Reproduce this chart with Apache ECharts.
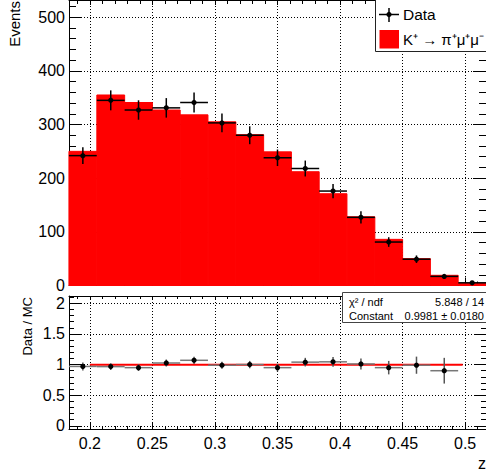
<!DOCTYPE html>
<html>
<head>
<meta charset="utf-8">
<script src="https://cdn.jsdelivr.net/npm/echarts@6/dist/echarts.min.js"></script>
<style>
  html, body { margin: 0; padding: 0; background: #fff; }
  #chart { width: 486px; height: 472px; }
</style>
</head>
<body>
<div id="chart"></div>
<script>
// bins in z (15 bins, width 1/45)
const binCenters = [0.1944, 0.2167, 0.2389, 0.2611, 0.2833, 0.3056, 0.3278, 0.3500, 0.3722, 0.3944, 0.4167, 0.4389, 0.4611, 0.4833, 0.5056]
const binWidth = 0.02222
const zRange = [0.18333, 0.51667]

// MC: K+ -> pi+ mu+ mu-
const mcEvents = [250, 355, 341, 327, 318, 305, 281, 249, 212, 171, 128, 86, 50, 19, 4]
// data points + errors
const dataEvents = [242, 345, 327, 331, 341, 303, 280, 238, 218, 176, 127, 81, 49, 17, 5]
const dataErrors = [15.6, 18.6, 18.1, 18.2, 18.5, 17.4, 16.7, 15.4, 14.8, 13.3, 11.3, 9.0, 7.0, 4.1, 2.2]

// data / MC (last bin not drawn)
const ratioValues = [0.97, 0.967, 0.95, 1.026, 1.07, 0.99, 1.0, 0.95, 1.04, 1.045, 1.01, 0.95, 0.99, 0.90]
const ratioErrors = [0.065, 0.055, 0.055, 0.057, 0.06, 0.058, 0.06, 0.064, 0.07, 0.08, 0.09, 0.11, 0.14, 0.21]

// pol0 fit of the ratio
const fitConstant = 0.9981
const fitRange = [0.2, 0.498]
const statsRows = [["χ² / ndf", "5.848 / 14"], ["Constant", "0.9981 ± 0.0180"]]

const FONT = '"Liberation Sans", Arial, Helvetica, sans-serif'
const gridLine = { show: true, lineStyle: { color: "#000", width: 1, type: [1, 2] } }

function frameAxis(gridIndex, position, tickLen, minorLen, extra) {
  return Object.assign({
    type: "value",
    gridIndex: gridIndex,
    position: position,
    axisLine: { show: true, onZero: false, lineStyle: { color: "#000", width: 1 } },
    axisTick: { show: true, inside: true, length: tickLen, lineStyle: { color: "#000" } },
    minorTick: { show: true, splitNumber: 5, length: minorLen, lineStyle: { color: "#000" } },
    axisLabel: { show: false },
    splitLine: { show: false },
  }, extra)
}

function renderBin(params, api) {
  const x = api.value(0)
  const p0 = api.coord([x - binWidth / 2, api.value(1)])
  const p1 = api.coord([x + binWidth / 2, 0])
  return {
    type: "rect",
    shape: { x: p0[0], y: p0[1], width: p1[0] - p0[0], height: p1[1] - p0[1] },
    // stroke in the same red hides the seams between neighbouring bins
    style: { fill: "#ff0000", stroke: "#ff0000", lineWidth: 1 },
  }
}

function errorBars(vColor, hColor) {
  return function (params, api) {
    const x = api.value(0), y = api.value(1), e = api.value(2)
    const l = api.coord([x - binWidth / 2, y])
    const r = api.coord([x + binWidth / 2, y])
    const t = api.coord([x, y + e])
    const b = api.coord([x, y - e])
    const c = api.coord([x, y])
    return {
      type: "group",
      children: [
        { type: "line", shape: { x1: l[0], y1: l[1], x2: r[0], y2: r[1] }, style: { stroke: hColor, lineWidth: 1.5 } },
        { type: "line", shape: { x1: t[0], y1: t[1], x2: b[0], y2: b[1] }, style: { stroke: vColor, lineWidth: 1.5 } },
        { type: "circle", shape: { cx: c[0], cy: c[1], r: 2.6 }, style: { fill: "#000" } },
      ],
    }
  }
}

const labelStyle = { show: true, color: "#000", fontFamily: FONT, fontSize: 16 }

const option = {
  animation: false,
  backgroundColor: "#fff",
  grid: [
    { left: 69, right: -3, top: 0, height: 285.5 },
    { left: 69, right: -3, top: 296, height: 133.5 },
  ],
  xAxis: [
    frameAxis(0, "bottom", 8, 4, { min: zRange[0], max: zRange[1], splitLine: gridLine }),
    frameAxis(0, "top", 5, 4, { min: zRange[0], max: zRange[1] }),
    frameAxis(1, "bottom", 7, 3.5, {
      min: zRange[0], max: zRange[1], splitLine: gridLine,
      axisLabel: Object.assign({ margin: 6, showMinLabel: false, showMaxLabel: false }, labelStyle),
    }),
    frameAxis(1, "top", 4, 3, { min: zRange[0], max: zRange[1] }),
  ],
  yAxis: [
    frameAxis(0, "left", 13, 7, {
      min: 0, max: 532, splitLine: gridLine,
      axisLabel: Object.assign({ margin: 4, showMinLabel: true, showMaxLabel: false }, labelStyle),
    }),
    frameAxis(0, "right", 13, 7, { min: 0, max: 532 }),
    frameAxis(1, "left", 12, 5, {
      min: -0.06, max: 2.12, splitLine: gridLine,
      axisLabel: Object.assign({ margin: 4, showMinLabel: false, showMaxLabel: false }, labelStyle),
    }),
    frameAxis(1, "right", 12, 5, { min: -0.06, max: 2.12 }),
  ],
  series: [
    {
      name: "K⁺ → π⁺μ⁺μ⁻",
      type: "custom",
      xAxisIndex: 0,
      yAxisIndex: 0,
      encode: { x: 0, y: 1 },
      data: binCenters.map((c, i) => [c, mcEvents[i]]),
      renderItem: renderBin,
      z: 2,
    },
    {
      name: "Data",
      type: "custom",
      xAxisIndex: 0,
      yAxisIndex: 0,
      encode: { x: 0, y: 1 },
      data: binCenters.map((c, i) => [c, dataEvents[i], dataErrors[i]]),
      renderItem: errorBars("#000", "#000"),
      z: 4,
    },
    {
      name: "fit",
      type: "line",
      xAxisIndex: 2,
      yAxisIndex: 2,
      data: fitRange.map((x) => [x, fitConstant]),
      symbol: "none",
      lineStyle: { color: "#ff0000", width: 2 },
      z: 3,
    },
    {
      name: "ratio",
      type: "custom",
      xAxisIndex: 2,
      yAxisIndex: 2,
      encode: { x: 0, y: 1 },
      data: ratioValues.map((r, i) => [binCenters[i], r, ratioErrors[i]]),
      renderItem: errorBars("#555", "#777"),
      z: 4,
    },
  ],
  graphic: [
    // axis titles
    { type: "text", x: 14.5, y: 1, rotation: Math.PI / 2,
      style: { text: "Events", fill: "#000", font: "15px " + FONT, align: "right", verticalAlign: "middle" } },
    { type: "text", x: 27, y: 297, rotation: Math.PI / 2,
      style: { text: "Data / MC", fill: "#000", font: "13px " + FONT, align: "right", verticalAlign: "middle" } },
    { type: "text", x: 486, y: 463,
      style: { text: "z", fill: "#000", font: "16px " + FONT, align: "right", verticalAlign: "middle" } },
    // legend
    { type: "rect", z: 20, shape: { x: 375.5, y: -1, width: 130, height: 52.5 },
      style: { fill: "#fff", stroke: "#222", lineWidth: 1 } },
    { type: "line", z: 21, shape: { x1: 379, y1: 14.5, x2: 399, y2: 14.5 }, style: { stroke: "#000", lineWidth: 1.5 } },
    { type: "line", z: 21, shape: { x1: 389, y1: 8, x2: 389, y2: 22 }, style: { stroke: "#000", lineWidth: 1.5 } },
    { type: "circle", z: 21, shape: { cx: 389, cy: 14.5, r: 2.6 }, style: { fill: "#000" } },
    { type: "text", z: 21, x: 403, y: 14.5,
      style: { text: "Data", fill: "#000", font: "15.5px " + FONT, verticalAlign: "middle" } },
    { type: "rect", z: 21, shape: { x: 379.5, y: 30, width: 19.5, height: 18.5 }, style: { fill: "#ff0000" } },
    { type: "text", z: 21, x: 403, y: 39.5,
      style: { text: "K⁺ → π⁺μ⁺μ⁻", fill: "#000", font: "15px " + FONT, verticalAlign: "middle" } },
    // fit stats box
    { type: "rect", z: 20, shape: { x: 342.5, y: 292.5, width: 150, height: 30 },
      style: { fill: "#fff", stroke: "#444", lineWidth: 1 } },
    ...statsRows.flatMap((row, i) => [
      { type: "text", z: 21, x: 349, y: 301.5 + i * 14.5,
        style: { text: row[0], fill: "#000", font: "11px " + FONT, verticalAlign: "middle" } },
      { type: "text", z: 21, x: 484, y: 301.5 + i * 14.5,
        style: { text: row[1], fill: "#000", font: "11px " + FONT, align: "right", verticalAlign: "middle" } },
    ]),
  ],
}

const myChart = echarts.init(document.getElementById("chart"), null, { renderer: "svg" })
myChart.setOption(option)
</script>
</body>
</html>
